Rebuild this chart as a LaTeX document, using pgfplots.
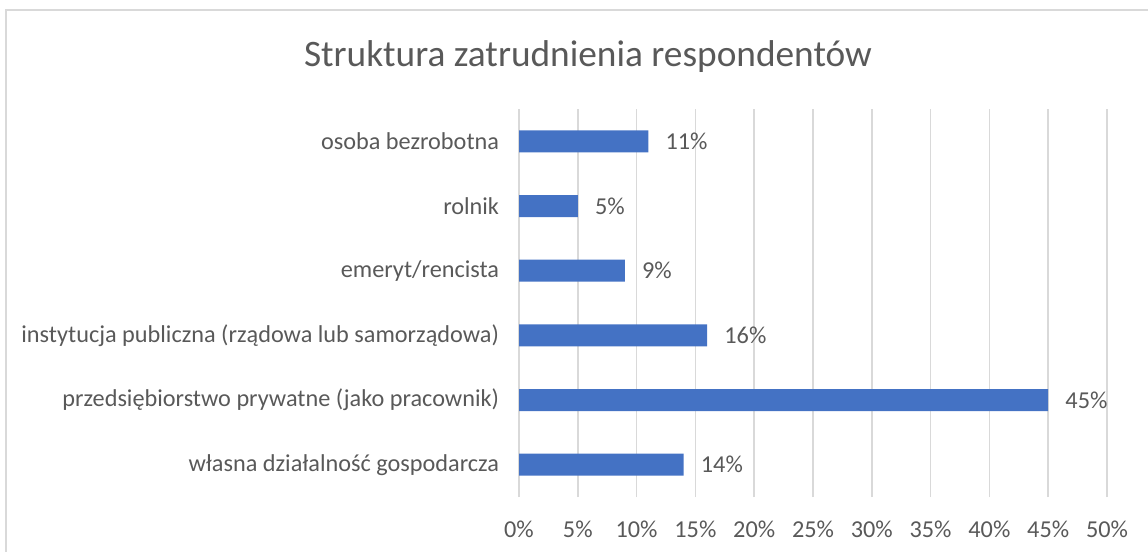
\documentclass[border=0pt]{standalone}
\usepackage{pgfplots}
\pgfplotsset{compat=1.18}
\usepackage{fontspec}
\setmainfont{Carlito}
\definecolor{barblue}{HTML}{4472C4}
\definecolor{txtgray}{HTML}{595959}
\definecolor{gridgray}{HTML}{D9D9D9}
\begin{document}
\begin{tikzpicture}
\useasboundingbox (0pt,0pt) rectangle (861pt,413.25pt);
% chart frame (cropped on the right and at the bottom)
\draw[gridgray, line width=1.3pt] (4.3pt,-5pt) -- (4.3pt,405.75pt) -- (870pt,405.75pt);
\node[anchor=base, text=txtgray, font=\fontsize{28}{32}\selectfont, inner sep=0pt]
  at (441pt,363pt) {Struktura zatrudnienia respondentów};
\begin{axis}[
  at={(389.25pt,40.5pt)}, anchor=south west,
  scale only axis, width=441pt, height=291pt,
  xbar, bar width=16.5pt,
  xmin=0, xmax=50, ymin=-0.5, ymax=5.5,
  xtick={0,5,...,50},
  xticklabels={0\%,5\%,10\%,15\%,20\%,25\%,30\%,35\%,40\%,45\%,50\%},
  ytick={0,...,5},
  yticklabels={własna działalność gospodarcza,
    przedsiębiorstwo prywatne (jako pracownik),
    instytucja publiczna (rządowa lub samorządowa),
    emeryt/rencista, rolnik, osoba bezrobotna},
  axis line style={draw=none}, major tick style={draw=none},
  xmajorgrids, grid style={gridgray, line width=1.1pt},
  tick label style={text=txtgray, font=\fontsize{18.2}{21}\selectfont, inner sep=0pt},
  xticklabel style={anchor=base, yshift=-30pt},
  yticklabel style={anchor=east, xshift=-10.5pt},
  point meta=x,
  nodes near coords={\pgfmathprintnumber[assume math mode=true]{\pgfplotspointmeta}\%},
  every node near coord/.style={text=txtgray, font=\fontsize{18.2}{21}\selectfont,
    anchor=west, inner sep=0pt, xshift=12.75pt},
]
\addplot[fill=barblue, draw=none] coordinates {
  (14,0) (45,1) (16,2) (9,3) (5,4) (11,5)
};
\end{axis}
\end{tikzpicture}
\end{document}
